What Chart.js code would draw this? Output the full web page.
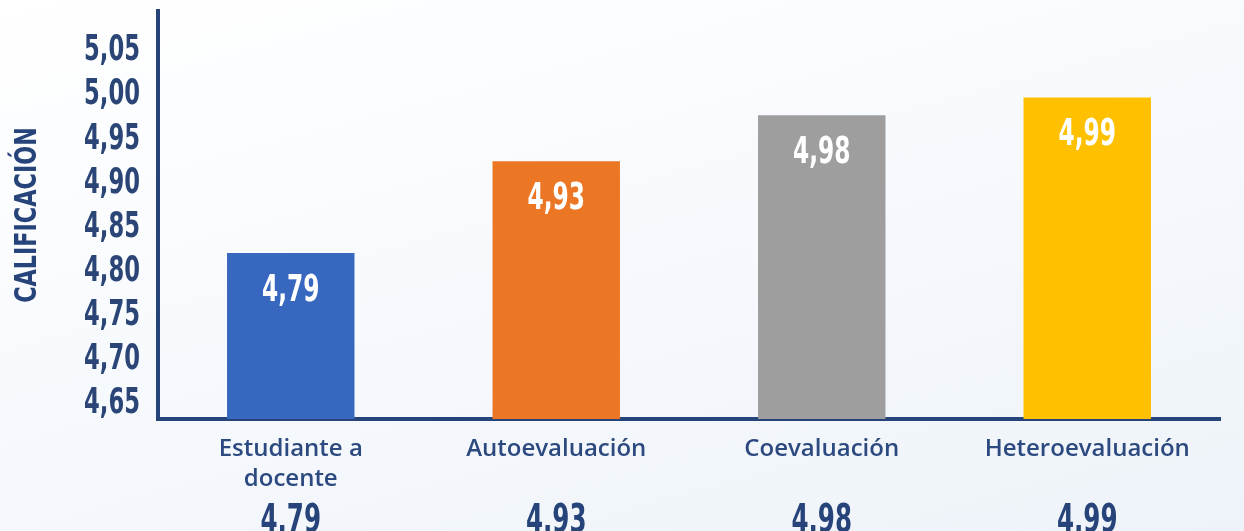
<!DOCTYPE html>
<html>
<head>
<meta charset="utf-8">
<script src="https://cdn.jsdelivr.net/npm/chart.js@4"></script>
<style>
  html, body { margin: 0; padding: 0; }
  body {
    width: 1244px; height: 531px; overflow: hidden;
    background: linear-gradient(165deg, #ffffff 0%, #f7fafd 45%, #eef3f9 100%);
  }
  #wrap { width: 1244px; height: 531px; position: relative; }
</style>
</head>
<body>
<div id="wrap"><canvas id="chart"></canvas></div>
<script>
// categories and values
const categories = [["Estudiante a", "docente"], "Autoevaluación", "Coevaluación", "Heteroevaluación"];
const barValues = [4.82, 4.924, 4.976, 4.996];
const valueLabels = ["4,79", "4,93", "4,98", "4,99"];
const barColors = ["#3767bf", "#eb7624", "#9e9e9e", "#ffc000"];
const yTicks = [4.65, 4.70, 4.75, 4.80, 4.85, 4.90, 4.95, 5.00, 5.05];
const yTitle = "CALIFICACIÓN";

const navy = "#26447a";
const condensed = "'DejaVu Sans Condensed', 'DejaVu Sans', sans-serif";

// the original uses a tall, narrow display face; squeeze the condensed font sideways
function narrowText(ctx, text, x, y, size, squeeze, angle) {
  ctx.save();
  ctx.font = "bold " + size + "px " + condensed;
  ctx.translate(x, y);
  if (angle) ctx.rotate(angle);
  ctx.scale(squeeze, 1);
  ctx.fillText(text, 0, 0);
  ctx.restore();
}

const narrowLabels = {
  id: "narrowLabels",
  afterDraw(chart) {
    const ctx = chart.ctx;
    const y = chart.scales.y;
    const meta = chart.getDatasetMeta(0);

    // y tick labels
    ctx.save();
    ctx.fillStyle = "#2b4577";
    ctx.textAlign = "right";
    ctx.textBaseline = "middle";
    yTicks.forEach(v => {
      narrowText(ctx, v.toFixed(2).replace(".", ","), 140, y.getPixelForValue(v) + 1, 36, 0.7);
    });

    // axis title
    ctx.fillStyle = navy;
    ctx.textAlign = "center";
    narrowText(ctx, yTitle, 28, (chart.chartArea.top + chart.chartArea.bottom) / 2, 31, 0.8, -Math.PI / 2);

    // values inside bars and under the category names
    meta.data.forEach((bar, i) => {
      ctx.fillStyle = "#ffffff";
      ctx.textBaseline = "middle";
      narrowText(ctx, valueLabels[i], bar.x, bar.y + 38, 37, 0.7);

      ctx.fillStyle = navy;
      ctx.textBaseline = "alphabetic";
      narrowText(ctx, valueLabels[i], bar.x, 532, 39, 0.7);
    });
    ctx.restore();
  }
};

new Chart(document.getElementById("chart"), {
  type: "bar",
  data: {
    labels: categories,
    datasets: [{
      data: barValues,
      backgroundColor: barColors,
      borderWidth: 0,
      barPercentage: 0.48,
      categoryPercentage: 1
    }]
  },
  options: {
    responsive: true,
    maintainAspectRatio: false,
    animation: false,
    layout: { padding: { top: 11, right: 24, left: 0, bottom: 0 } },
    plugins: {
      legend: { display: false },
      tooltip: { enabled: false }
    },
    scales: {
      x: {
        grid: { display: false, drawTicks: false },
        border: { display: true, color: navy, width: 4 },
        ticks: {
          color: "#2c4a7f",
          padding: 15,
          maxRotation: 0,
          autoSkip: false,
          font: { family: "'Open Sans', 'Noto Sans', sans-serif", size: 24, weight: 600, lineHeight: 1.25 }
        },
        afterFit(scale) { scale.height = 112; }
      },
      y: {
        min: 4.632,
        max: 5.094,
        grid: { display: false, drawTicks: false },
        border: { display: true, color: navy, width: 4 },
        ticks: { display: false },
        afterFit(scale) {
          scale.width = 158;
          scale.paddingTop = 0;
          scale.paddingBottom = 0;
        }
      }
    }
  },
  plugins: [narrowLabels]
});
</script>
</body>
</html>
